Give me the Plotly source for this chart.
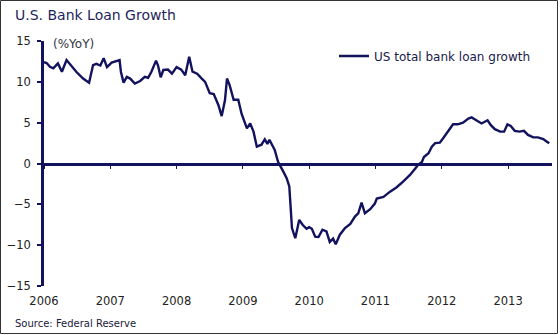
import plotly.graph_objects as go

# decimal years
years = [2006.00, 2006.04, 2006.09, 2006.14, 2006.21, 2006.27, 2006.34, 2006.44, 2006.49,
         2006.59, 2006.68, 2006.74, 2006.79, 2006.85, 2006.90, 2006.95, 2007.02, 2007.14,
         2007.16, 2007.20, 2007.25, 2007.30, 2007.37, 2007.45, 2007.52, 2007.57, 2007.62,
         2007.69, 2007.72, 2007.76, 2007.80, 2007.87, 2007.93, 2008.00, 2008.07, 2008.13,
         2008.19, 2008.24, 2008.31, 2008.38, 2008.43, 2008.50, 2008.56, 2008.63, 2008.68,
         2008.73, 2008.76, 2008.80, 2008.86, 2008.93, 2008.98, 2009.06, 2009.11, 2009.16,
         2009.21, 2009.28, 2009.33, 2009.37, 2009.40, 2009.48, 2009.53, 2009.61, 2009.66,
         2009.70, 2009.72, 2009.74, 2009.79, 2009.85, 2009.90, 2009.96, 2010.00, 2010.04,
         2010.09, 2010.14, 2010.20, 2010.26, 2010.31, 2010.36, 2010.40, 2010.46, 2010.54,
         2010.62, 2010.69, 2010.74, 2010.79, 2010.84, 2010.92, 2010.99, 2011.02, 2011.12,
         2011.22, 2011.32, 2011.42, 2011.52, 2011.60, 2011.65, 2011.70, 2011.73, 2011.80,
         2011.85, 2011.90, 2011.97, 2012.02, 2012.07, 2012.12, 2012.17, 2012.24, 2012.32,
         2012.40, 2012.45, 2012.52, 2012.60, 2012.69, 2012.74, 2012.80, 2012.88, 2012.94,
         2012.99, 2013.04, 2013.10, 2013.17, 2013.24, 2013.30, 2013.38, 2013.45, 2013.53,
         2013.58, 2013.62]
loan_growth = [12.4, 12.3, 11.85, 11.65, 12.26, 11.24, 12.67, 11.65, 11.2,
               10.4, 9.9, 12.05, 12.2, 12.0, 12.9, 11.8, 12.35, 12.67,
               11.24, 9.9, 10.6, 10.4, 9.8, 10.1, 10.6, 10.5, 11.24,
               12.6, 12.0, 10.55, 11.45, 11.5, 11.0, 11.8, 11.5, 10.8,
               13.07, 11.24, 11.0, 10.4, 10.0, 8.6, 8.5, 7.16, 5.8,
               7.77, 10.4, 9.6, 7.8, 7.8, 6.1, 4.3, 4.9, 3.9,
               2.06, 2.3, 2.96, 2.4, 2.9, 1.65, 0.2, -1.0, -1.8,
               -2.8, -4.9, -7.9, -9.15, -6.9, -7.5, -8.0, -7.8, -8.0,
               -8.96, -9.0, -8.1, -8.3, -9.6, -9.2, -9.9, -8.75, -7.9,
               -7.4, -6.5, -6.1, -4.8, -6.1, -5.6, -4.9, -4.3, -4.1,
               -3.45, -2.9, -2.2, -1.4, -0.6, -0.1, 0.2, 0.8, 1.25,
               2.06, 2.5, 2.55, 3.1, 3.7, 4.3, 4.8, 4.8, 5.0,
               5.5, 5.65, 5.3, 4.9, 5.3, 4.7, 4.2, 3.9, 3.9,
               4.8, 4.6, 4.0, 3.9, 4.0, 3.5, 3.2, 3.2, 3.0,
               2.7, 2.47]

x_ticks = [2006, 2007, 2008, 2009, 2010, 2011, 2012, 2013]
y_ticks = [-15, -10, -5, 0, 5, 10, 15]
series_name = "US total bank loan growth"

NAVY = "#12125e"
FONT = "DejaVu Sans"

W, H = 560, 335
ML, MR, MT, MB = 44, 8, 41, 49
pw = W - ML - MR
ph = H - MT - MB

def px(x):
    return (x - ML) / pw

def py(y):
    return (H - MB - y) / ph

fig = go.Figure()
fig.add_trace(go.Scatter(x=years, y=loan_growth, mode="lines", name=series_name,
                         line=dict(color=NAVY, width=2.4)))

xr = [2006, 2006 + (W - ML - MR) / 66.3]

fig.update_layout(
    width=W, height=H,
    margin=dict(l=ML, r=MR, t=MT, b=MB),
    paper_bgcolor="white", plot_bgcolor="white",
    font=dict(family=FONT, size=11, color="#222222"),
    showlegend=True,
    legend=dict(x=px(334), y=py(56), xanchor="left", yanchor="middle",
                bgcolor="rgba(0,0,0,0)", font=dict(size=12, color="#1a1a4a"),
                itemwidth=30),
    xaxis=dict(range=xr, tickmode="array", tickvals=x_ticks,
               ticktext=[str(v) for v in x_ticks], showgrid=False, zeroline=False,
               showline=False, ticks="", ticklabelstandoff=6,
               tickfont=dict(size=11.5, color="#222222")),
    xaxis2=dict(range=xr, overlaying="x", anchor="free", position=0.5,
                tickmode="array", tickvals=x_ticks, showticklabels=False,
                showgrid=False, zeroline=False, showline=True, linecolor=NAVY,
                linewidth=2.5, ticks="outside", ticklen=4, tickwidth=1.2,
                tickcolor=NAVY),
    yaxis=dict(range=[-15, 15], tickmode="array", tickvals=y_ticks,
               showgrid=False, zeroline=False, showline=True, linecolor=NAVY,
               linewidth=2.5, ticks="outside", ticklen=4, tickwidth=1.5,
               tickcolor=NAVY, ticklabelstandoff=4,
               tickfont=dict(size=11.5, color="#222222")),
)
# invisible trace to activate zero-line axis
fig.add_trace(go.Scatter(x=[xr[0]], y=[0], xaxis="x2", mode="markers",
                         marker=dict(opacity=0), showlegend=False, hoverinfo="skip"))

fig.add_annotation(text="U.S. Bank Loan Growth", xref="paper", yref="paper",
                   x=px(13), y=py(15), xanchor="left", yanchor="middle",
                   showarrow=False, font=dict(size=14, color="#1f1f5c", family=FONT))
fig.add_annotation(text="(%YoY)", xref="paper", yref="paper",
                   x=px(51), y=py(44), xanchor="left", yanchor="middle",
                   showarrow=False, font=dict(size=12, color="#333344", family=FONT))
fig.add_annotation(text="Source: Federal Reserve", xref="paper", yref="paper",
                   x=px(13), y=py(323), xanchor="left", yanchor="middle",
                   showarrow=False, font=dict(size=10, color="#1a1a3a", family=FONT))

fig.add_shape(type="rect", xref="paper", yref="paper",
              x0=px(0.5), x1=px(557.5), y0=py(333.5), y1=py(0.5),
              line=dict(color="#333333", width=1), fillcolor="rgba(0,0,0,0)", layer="below")

fig.write_html("out.html")
